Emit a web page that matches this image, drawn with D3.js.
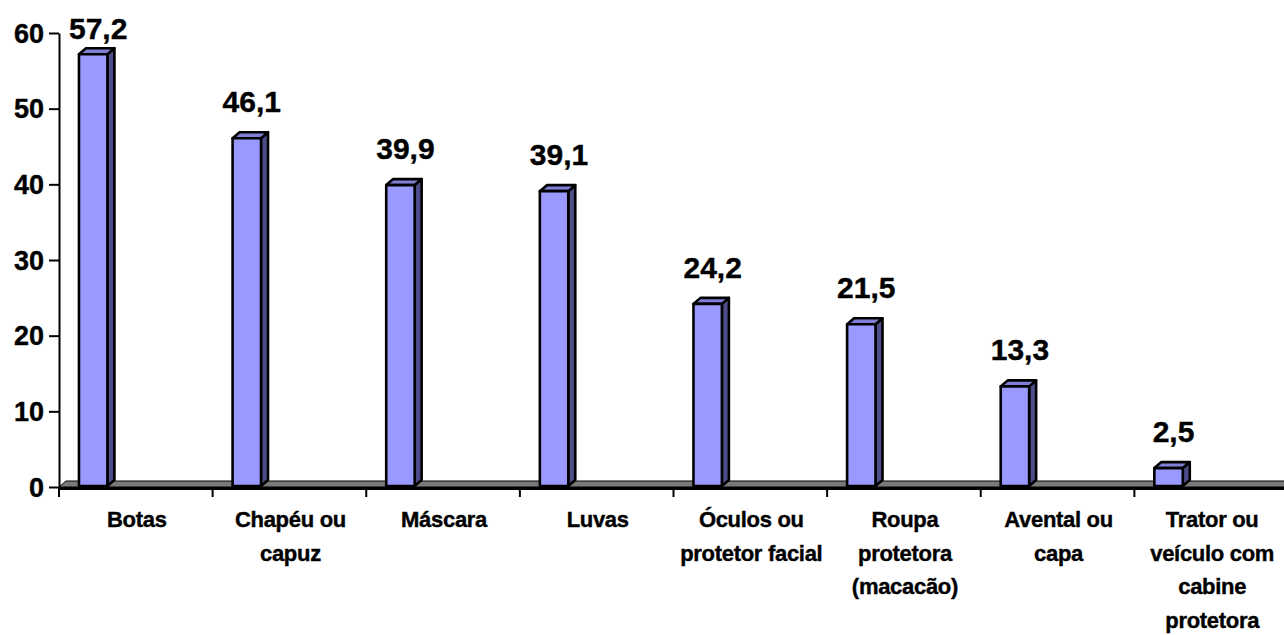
<!DOCTYPE html>
<html>
<head>
<meta charset="utf-8">
<script src="https://cdn.jsdelivr.net/npm/d3@7"></script>
<style>
  html, body { margin: 0; padding: 0; background: #fff; }
  svg { display: block; }
  text { font-family: "Liberation Sans", Arial, sans-serif; font-weight: bold; fill: #000; stroke: #000; stroke-width: 0.4px; }
</style>
</head>
<body>
<svg id="chart" width="1284" height="635"></svg>
<script>
const categories = [
  "Botas",
  "Chapéu ou|capuz",
  "Máscara",
  "Luvas",
  "Óculos ou|protetor facial",
  "Roupa|protetora|(macacão)",
  "Avental ou|capa",
  "Trator ou|veículo com|cabine|protetora"
];
const values = [57.2, 46.1, 39.9, 39.1, 24.2, 21.5, 13.3, 2.5];
const yTicks = [0, 10, 20, 30, 40, 50, 60];

(function () {
const svg = d3.select("#chart");
const W = 1284;
const pLeft = 59, pRight = 1288, pTop = 33, pBottom = 487;
const dx = 7, dy = 6;

const y = d3.scaleLinear().domain([0, 60]).range([pBottom, pTop]);
const x = d3.scaleBand().domain(categories).range([pLeft, pRight]).paddingInner(0).paddingOuter(0);
const bw = x.bandwidth();
const barOff = bw * 0.13, barW = bw * 0.185;

// floor
svg.append("polygon")
  .attr("points", [[pLeft, pBottom], [pLeft + dx, pBottom - dy], [pRight + 10, pBottom - dy], [pRight + 10, pBottom]].map(p => p.join(",")).join(" "))
  .attr("fill", "#7a7a7a")
  .attr("stroke", "#000").attr("stroke-width", 1);

// bars
const g = svg.append("g");
categories.forEach((c, i) => {
  const v = values[i];
  const x0 = x(c) + barOff, x1 = x0 + barW;
  const yv = y(v), y0 = y(0) - 1;
  const bar = g.append("g").attr("stroke", "#000").attr("stroke-width", 2.6).attr("stroke-linejoin", "round");
  bar.append("polygon")
    .attr("points", [[x1, yv], [x1 + dx, yv - dy], [x1 + dx, y0 - dy], [x1, y0]].map(p => p.join(",")).join(" "))
    .attr("fill", "#4d4d8a");
  bar.append("polygon")
    .attr("points", [[x0, yv], [x0 + dx, yv - dy], [x1 + dx, yv - dy], [x1, yv]].map(p => p.join(",")).join(" "))
    .attr("fill", "#7f7fd6");
  bar.append("rect")
    .attr("x", x0).attr("y", yv).attr("width", barW).attr("height", y0 - yv)
    .attr("fill", "#9999ff");
  svg.append("text")
    .attr("x", (x0 + x1) / 2 + 5)
    .attr("y", Math.max(yv - dy - 20, 39))
    .attr("text-anchor", "middle")
    .attr("font-size", 30)
    .text(d3.format(".1f")(v).replace(".", ","));
});

// baseline
svg.append("line")
  .attr("x1", pLeft).attr("x2", W + 5)
  .attr("y1", pBottom + 1.5).attr("y2", pBottom + 1.5)
  .attr("stroke", "#000").attr("stroke-width", 3);

// category ticks
const bounds = categories.map(c => x(c)).concat([pRight]);
svg.append("g").selectAll("line").data(bounds).join("line")
  .attr("x1", d => d).attr("x2", d => d)
  .attr("y1", pBottom).attr("y2", pBottom + 10)
  .attr("stroke", "#000").attr("stroke-width", 2);

// y axis
const yAxis = d3.axisLeft(y).tickValues(yTicks).tickSize(10).tickSizeOuter(0).tickPadding(5)
  .tickFormat(d3.format("d"));
const ya = svg.append("g").attr("transform", `translate(${pLeft},0)`).call(yAxis);
ya.select(".domain").attr("stroke", "#000").attr("stroke-width", 2);
ya.selectAll(".tick line").attr("stroke", "#000").attr("stroke-width", 2);
ya.selectAll(".tick text")
  .attr("font-size", 27)
  .attr("font-family", "'Liberation Sans', Arial, sans-serif")
  .attr("font-weight", "bold")
  .attr("dy", null)
  .attr("y", 9)
  .attr("fill", "#000");

// category labels
categories.forEach(c => {
  const lines = c.split("|");
  const t = svg.append("text")
    .attr("text-anchor", "middle")
    .attr("font-size", 22)
    .attr("letter-spacing", "-0.3px");
  lines.forEach((ln, j) => {
    t.append("tspan")
      .attr("x", x(c) + bw / 2 + 1)
      .attr("y", 527 + j * 33.5)
      .text(ln);
  });
});
})();
</script>
</body>
</html>
